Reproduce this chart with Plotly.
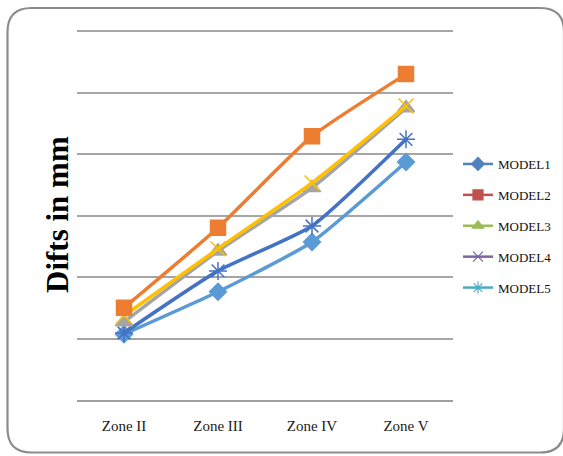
import plotly.graph_objects as go

# Drift values per seismic zone for each model
zones = ["Zone II", "Zone III", "Zone IV", "Zone V"]
model1 = [1.07, 1.76, 2.57, 3.87]
model2 = [1.50, 2.80, 4.29, 5.30]
model3 = [1.27, 2.42, 3.45, 4.75]
model4 = [1.37, 2.46, 3.53, 4.78]
model5 = [1.09, 2.10, 2.83, 4.24]

names = ["MODEL1", "MODEL2", "MODEL3", "MODEL4", "MODEL5"]
series = [model1, model2, model3, model4, model5]

# Colours/markers of the plotted lines
line_colors = ["#5B9BD5", "#ED7D31", "#A5A5A5", "#FFC000", "#4472C4"]
line_symbols = ["diamond", "square", "triangle-up", "x-thin-open", "asterisk-open"]
line_sizes = [13, 15, 15, 15, 15]

# Colours/markers shown in the legend
legend_colors = ["#4F81BD", "#C0504D", "#9BBB59", "#8064A2", "#4BACC6"]
legend_symbols = ["diamond", "square", "triangle-up", "x-thin-open", "asterisk-open"]

W, H = 563, 456
L, R, T, B = 77, 110, 28, 56
pw, ph = W - L - R, H - T - B

def px(x):
    return (x - L) / pw

def py(y):
    return (H - B - y) / ph

fig = go.Figure()

# Draw order: back to front
order = [0, 4, 2, 3, 1]
for i in order:
    fig.add_trace(go.Scatter(
        x=zones, y=series[i], name=names[i], mode="lines+markers",
        line=dict(color=line_colors[i], width=3.5, shape="spline", smoothing=0.5),
        marker=dict(symbol=line_symbols[i], size=line_sizes[i], color=line_colors[i],
                    line=dict(color=line_colors[i], width=1.5)),
        showlegend=False,
    ))

for i in range(5):
    fig.add_trace(go.Scatter(
        x=[None], y=[None], name=names[i], mode="lines+markers",
        legendgroup=names[i],
        line=dict(color=legend_colors[i], width=2.5),
        marker=dict(symbol=legend_symbols[i], size=10, color=legend_colors[i],
                    line=dict(color=legend_colors[i], width=1.2)),
    ))

# Rounded outer frame
x0, x1, y0, y1, r = 7.5, 564, 8, 452.5, 24
path = (
    f"M {px(x0 + r)} {py(y0)} L {px(x1 - r)} {py(y0)} "
    f"Q {px(x1)} {py(y0)} {px(x1)} {py(y0 + r)} "
    f"L {px(x1)} {py(y1 - r)} "
    f"Q {px(x1)} {py(y1)} {px(x1 - r)} {py(y1)} "
    f"L {px(x0 + r)} {py(y1)} "
    f"Q {px(x0)} {py(y1)} {px(x0)} {py(y1 - r)} "
    f"L {px(x0)} {py(y0 + r)} "
    f"Q {px(x0)} {py(y0)} {px(x0 + r)} {py(y0)} Z"
)
fig.add_shape(type="path", path=path, xref="paper", yref="paper",
              line=dict(color="#8C8C8C", width=2.2), layer="above")

serif = "Liberation Serif, Times New Roman, serif"

fig.add_annotation(
    text="<b>Difts in mm</b>", textangle=-90, showarrow=False,
    xref="paper", yref="paper", x=px(57), y=py(215),
    xanchor="center", yanchor="middle",
    font=dict(family=serif, size=31, color="#000000"),
)

fig.update_layout(
    width=W, height=H,
    margin=dict(l=L, r=R, t=T, b=B, autoexpand=False),
    paper_bgcolor="white", plot_bgcolor="white",
    font=dict(family=serif, color="#262626"),
    legend=dict(
        x=px(458), y=py(149), xanchor="left", yanchor="top",
        font=dict(family=serif, size=13, color="#111111"),
        tracegroupgap=11, traceorder="grouped",
        itemwidth=30, bgcolor="rgba(0,0,0,0)",
    ),
    xaxis=dict(
        type="category", range=[-0.5, 3.5], showgrid=False,
        showline=True, linecolor="#A0A0A0", linewidth=1.5,
        ticks="", tickfont=dict(family=serif, size=15, color="#1a1a1a"),
        ticklabelstandoff=11, zeroline=False,
    ),
    yaxis=dict(
        range=[0, 6.05], dtick=1, showticklabels=False, ticks="",
        showgrid=True, gridcolor="#A6A6A6", gridwidth=1.5,
        zeroline=False, showline=False,
    ),
)

fig.write_html("out.html")
